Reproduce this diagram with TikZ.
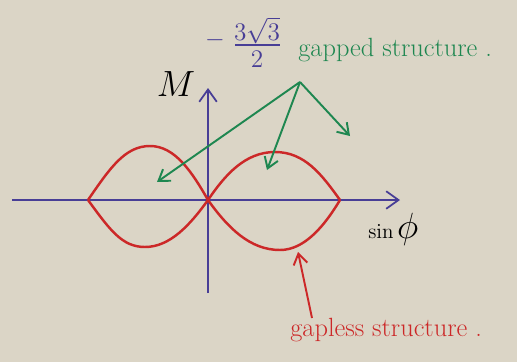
\documentclass[tikz,border=0pt]{standalone}
\usetikzlibrary{arrows.meta}
\definecolor{bg}{RGB}{219,213,198}
\definecolor{axisblue}{RGB}{72,62,150}
\definecolor{curvered}{RGB}{204,40,40}
\definecolor{markgreen}{RGB}{30,135,80}
\begin{document}
\begin{tikzpicture}[x=0.02cm,y=-0.02cm,
  axisline/.style={draw=axisblue,line width=1pt,-{Straight Barb[length=7pt,width=10pt]}},
  lobe/.style={draw=curvered,line width=1.4pt,line join=round},
  greenarrow/.style={draw=markgreen,line width=1.1pt,-{Straight Barb[length=6pt,width=8pt]}},
  redarrow/.style={draw=curvered,line width=1.1pt,-{Straight Barb[length=6pt,width=8pt]}},
  lbl/.style={inner sep=0pt,anchor=center}]
\fill[bg] (0,0) rectangle (517,362);
\useasboundingbox (0,0) rectangle (517,362);
% axes
\coordinate (xs) at (12,200);
\coordinate (xe) at (400,200);
\coordinate (ys) at (208,293);
\coordinate (ye) at (208,88);
\draw[axisline] (xs) -- (xe);
\draw[axisline] (ys) -- (ye);
% lobes
\coordinate (L) at (88,200);
\coordinate (O) at (208,200);
\coordinate (R) at (340,200);
\draw[lobe] (L) .. controls (110,168) and (125,146) .. (150,146) .. controls (175,146) and (192,172) .. (O);
\draw[lobe] (L) .. controls (110,230) and (122,247) .. (145,247) .. controls (170,247) and (190,225) .. (O);
\draw[lobe] (O) .. controls (225,175) and (245,152) .. (275,152) .. controls (305,152) and (322,175) .. (R);
\draw[lobe] (O) .. controls (228,228) and (250,250) .. (280,250) .. controls (305,250) and (325,225) .. (R);
% labels
\node[lbl] (M) at (176,84) {\huge $M$};
\node[lbl,text=axisblue] (minus) at (215,40) {\Large $-$};
\node[inner sep=0pt,anchor=base,text=axisblue] (num) at (257,40) {\Large $3\sqrt{3}$};
\node[lbl,text=axisblue] (den) at (257,59) {\Large $2$};
\coordinate (barl) at (235,45);
\coordinate (barr) at (280,45);
\draw[axisblue,line width=1pt] (barl) -- (barr);
\node[lbl,text=markgreen,anchor=west] (gapped) at (298,50) {\fontsize{15}{18}\selectfont gapped structure .};
\node[lbl,anchor=west] (sinphi) at (368,229) {\large $\sin$\,\huge $\phi$};
\node[lbl,text=curvered,anchor=west] (gapless) at (290,330) {\fontsize{15}{18}\selectfont gapless structure .};
% green arrows
\coordinate (apex) at (300,82);
\coordinate (t1) at (157,182);
\coordinate (t2) at (267,170);
\coordinate (t3) at (350,136);
\draw[greenarrow] (apex) -- (t1);
\draw[greenarrow] (apex) -- (t2);
\draw[greenarrow] (apex) -- (t3);
% red arrow
\coordinate (rs) at (312,318);
\coordinate (re) at (298,252);
\draw[redarrow] (rs) -- (re);
\end{tikzpicture}
\end{document}
